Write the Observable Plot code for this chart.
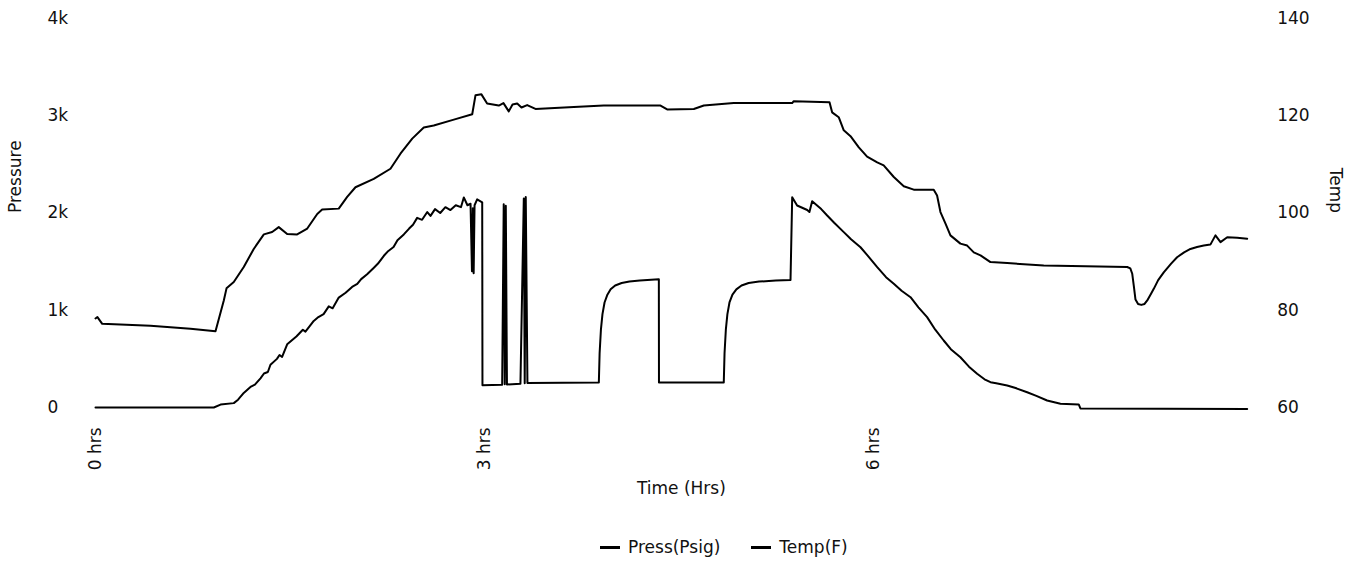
<!DOCTYPE html>
<html>
<head>
<meta charset="utf-8">
<script src="https://cdn.jsdelivr.net/npm/d3@7"></script>
<script src="https://cdn.jsdelivr.net/npm/@observablehq/plot@0.6"></script>
<style>
  html, body { margin: 0; padding: 0; background: #fff; }
  #chart { width: 1360px; }
  .legend { display: flex; align-items: center; height: 54px; padding-left: 600px;
            font-family: "DejaVu Sans", sans-serif; font-size: 17px; color: #111; }
  .legend .item { display: flex; align-items: center; margin-right: 31px; }
  .legend .sw { width: 20px; height: 3px; background: #000; margin-right: 8px; }
</style>
</head>
<body>
<div id="chart"></div>
<script>
// Time (hrs) and pressure (psig)
const pressHrs = [0.000,0.500,0.913,0.965,1.067,1.100,1.144,1.200,1.230,1.273,1.300,1.330,1.350,1.400,1.420,1.440,1.479,1.550,1.600,1.620,1.684,1.720,1.760,1.800,1.830,1.877,1.930,1.980,2.020,2.050,2.096,2.150,2.180,2.225,2.260,2.300,2.330,2.379,2.420,2.450,2.482,2.520,2.560,2.585,2.620,2.660,2.700,2.739,2.780,2.820,2.842,2.870,2.894,2.905,2.912,2.918,2.925,2.945,2.984,2.986,3.138,3.150,3.158,3.166,3.175,3.279,3.305,3.312,3.320,3.333,3.884,3.890,3.900,3.912,3.928,3.950,3.975,4.010,4.060,4.120,4.200,4.347,4.348,4.848,4.854,4.864,4.876,4.892,4.915,4.945,4.985,5.040,5.120,5.250,5.363,5.376,5.414,5.492,5.509,5.530,5.600,5.646,5.700,5.774,5.830,5.903,5.960,6.032,6.100,6.160,6.220,6.289,6.350,6.417,6.480,6.545,6.600,6.674,6.740,6.803,6.860,6.906,6.950,7.035,7.100,7.189,7.260,7.343,7.446,7.587,7.600,8.887];
const pressPsi = [0,0,0,30,45,80,150,215,235,300,350,365,440,500,540,520,650,730,800,780,890,930,960,1040,1020,1130,1180,1240,1270,1320,1370,1440,1480,1560,1610,1650,1720,1780,1840,1880,1950,1930,2010,1970,2040,2000,2060,2030,2080,2060,2160,2080,2095,1400,2050,1380,2080,2140,2110,230,235,2090,240,2075,237,244,2150,250,2165,252,257,560,800,960,1080,1160,1215,1255,1280,1295,1305,1319,257,257,560,800,960,1080,1160,1215,1255,1280,1295,1305,1311,2163,2077,2031,2010,2121,2040,1974,1900,1803,1730,1648,1560,1443,1340,1272,1200,1134,1030,929,800,689,600,517,420,347,290,260,250,226,200,157,120,72,38,31,-10,-15];

// Time (hrs) and temperature (F)
const tempHrs = [0.000,0.015,0.052,0.424,0.733,0.926,0.990,1.011,1.067,1.144,1.221,1.299,1.363,1.414,1.479,1.556,1.634,1.711,1.749,1.877,1.942,2.006,2.147,2.276,2.353,2.444,2.533,2.610,2.765,2.907,2.932,2.978,3.022,3.112,3.148,3.189,3.218,3.254,3.287,3.331,3.395,3.691,3.922,4.360,4.411,4.617,4.694,4.925,5.376,5.388,5.664,5.684,5.735,5.774,5.826,5.890,5.954,6.032,6.082,6.160,6.237,6.314,6.468,6.494,6.520,6.559,6.597,6.674,6.726,6.777,6.829,6.906,7.035,7.317,7.961,7.985,8.000,8.012,8.025,8.045,8.070,8.095,8.120,8.145,8.166,8.200,8.243,8.300,8.346,8.400,8.449,8.500,8.552,8.603,8.642,8.681,8.733,8.810,8.887];
const tempF = [78.3,78.6,77.2,76.8,76.2,75.7,82.0,84.5,85.8,88.9,92.6,95.6,96.1,97.1,95.7,95.6,96.8,99.8,100.7,100.9,103.3,105.3,107.0,109.1,112.2,115.3,117.6,118.0,119.2,120.3,124.2,124.4,122.5,122.1,122.6,120.9,122.3,122.5,121.7,122.2,121.4,121.8,122.1,122.1,121.3,121.4,122.1,122.6,122.6,123.0,122.8,120.7,119.7,117.0,115.8,113.5,111.6,110.4,109.8,107.4,105.5,104.8,104.8,103.6,100.2,97.8,95.4,93.7,93.3,91.9,91.3,89.9,89.7,89.2,88.9,88.6,87.5,85.0,82.2,81.3,81.1,81.3,82.2,83.4,84.4,86.2,87.8,89.6,90.9,91.9,92.6,93.0,93.3,93.5,95.4,94.0,95.0,94.9,94.7];

const xTicks = [0, 3, 6];
const pressTicks = [0, 1000, 2000, 3000, 4000];
const tempTicks = [60, 80, 100, 120, 140];
const seriesNames = ["Press(Psig)", "Temp(F)"];

const press = pressHrs.map((t, i) => ({t, v: pressPsi[i]}));
const temp = tempHrs.map((t, i) => ({t, v: tempF[i]}));
// temperature axis (60..140 F) shares the pressure scale (0..4000)
const tToP = f => (f - 60) * 50;

const chart = Plot.plot({
  width: 1360,
  height: 520,
  marginTop: 18,
  marginBottom: 113,
  marginLeft: 95,
  marginRight: 113.3,
  style: {fontFamily: "DejaVu Sans, sans-serif", fontSize: "17px", color: "#111", background: "#fff"},
  x: {domain: [0, 8.887]},
  y: {domain: [0, 4000]},
  marks: [
    Plot.axisX(xTicks, {tickSize: 0, tickPadding: 20, tickRotate: -90, tickFormat: d => `${d} hrs`, label: null}),
    Plot.axisY(pressTicks, {anchor: "left", tickSize: 0, tickPadding: 0, textAnchor: "start", dx: -48,
      tickFormat: d => d === 0 ? "0" : `${d / 1000}k`, label: null}),
    Plot.axisY(tempTicks.map(tToP), {anchor: "right", tickSize: 0, tickPadding: 30,
      tickFormat: d => String(60 + d / 50), label: null}),
    Plot.text(["Pressure"], {frameAnchor: "left", dx: -80, rotate: -90, fontSize: 17}),
    Plot.text(["Temp"], {frameAnchor: "right", dx: 88, rotate: 90, fontSize: 17}),
    Plot.text(["Time (Hrs)"], {frameAnchor: "bottom", dy: 86, dx: 10, fontSize: 17}),
    Plot.line(temp, {x: "t", y: d => tToP(d.v), stroke: "#000", strokeWidth: 2, strokeLinejoin: "round"}),
    Plot.line(press, {x: "t", y: "v", stroke: "#000", strokeWidth: 2, strokeLinejoin: "round"})
  ]
});
document.getElementById("chart").appendChild(chart);

const legend = document.createElement("div");
legend.className = "legend";
seriesNames.forEach(name => {
  const item = document.createElement("div");
  item.className = "item";
  const sw = document.createElement("span");
  sw.className = "sw";
  const label = document.createElement("span");
  label.textContent = name;
  item.appendChild(sw);
  item.appendChild(label);
  legend.appendChild(item);
});
document.body.appendChild(legend);
</script>
</body>
</html>
